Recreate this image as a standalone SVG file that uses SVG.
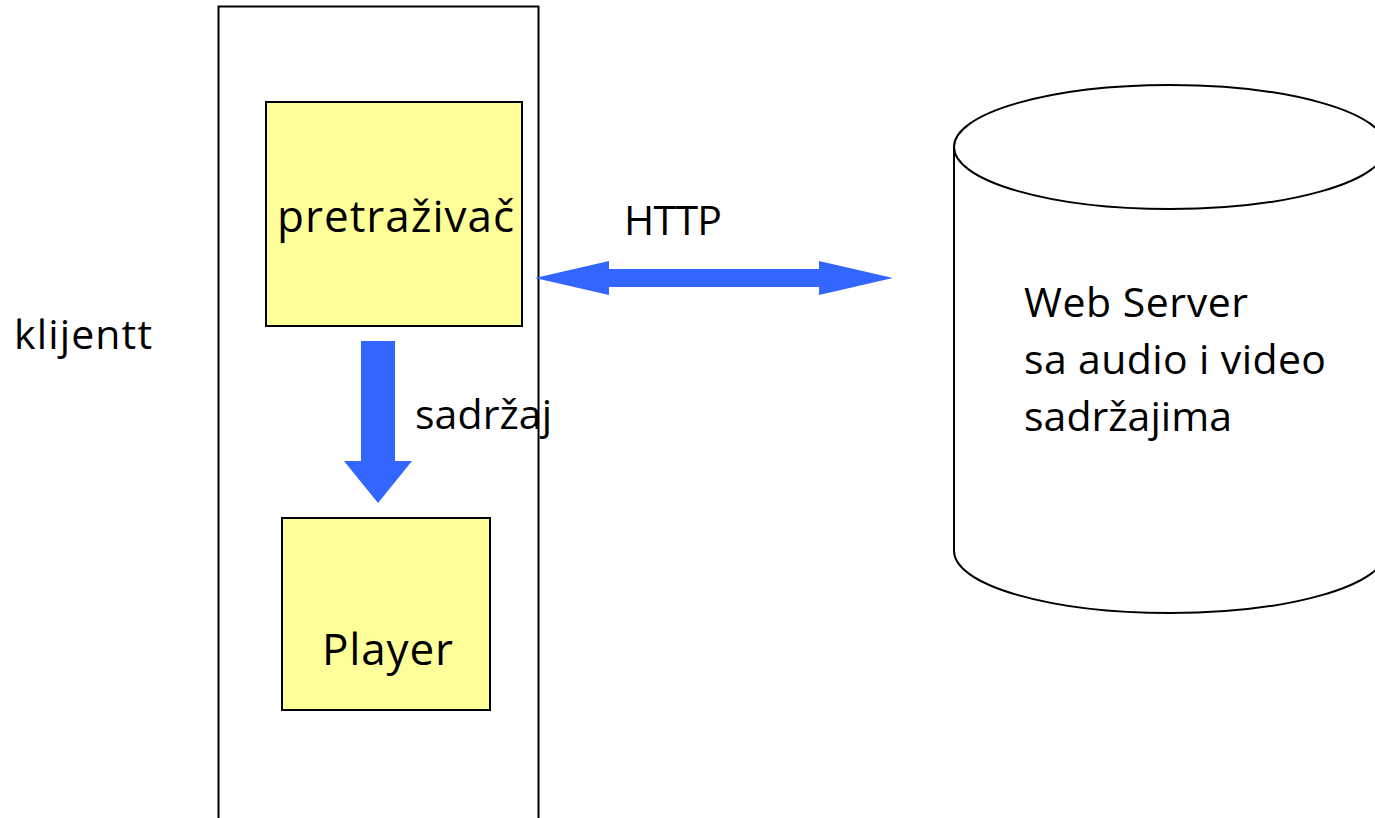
<svg xmlns="http://www.w3.org/2000/svg" width="1375" height="818" viewBox="0 0 1375 818">
<style>
text{font-family:"Open Sans","Noto Sans",sans-serif;font-size:41px;fill:#000}
.big{font-size:44px}
.box{fill:#FFFF99;stroke:#000;stroke-width:2}
.blue{fill:#3366FF;stroke:none}
</style>
<rect width="1375" height="818" fill="#fff"/>
<g id="client">
<rect x="218.5" y="6.5" width="320" height="830" fill="none" stroke="#000" stroke-width="2"/>
<text x="14" y="349" textLength="138">klijentt</text>
</g>
<g id="pretrazivac">
<rect class="box" x="266" y="102" width="256" height="224"/>
<text class="big" x="277" y="232" textLength="237">pretraživač</text>
</g>
<g id="player">
<rect class="box" x="282" y="518" width="208" height="192"/>
<text class="big" x="322" y="665" textLength="131">Player</text>
</g>
<g id="server">
<path d="M954,147 L954,551 A216,62 0 0 0 1386,551 L1386,147 A216,62 0 0 0 954,147 Z" fill="#fff" stroke="#000" stroke-width="2"/>
<path d="M954,147 A216,62 0 0 0 1386,147" fill="none" stroke="#000" stroke-width="2"/>
<text x="1024" y="317" textLength="224">Web Server</text>
<text x="1024" y="374" textLength="302">sa audio i video</text>
<text x="1024" y="431" textLength="208">sadržajima</text>
</g>
<g id="connectors">
<polygon class="blue" points="535,278 609,261 609,269 819,269 819,261 893,278 819,295 819,287 609,287 609,295"/>
<text x="624" y="235" textLength="98">HTTP</text>
<polygon class="blue" points="361,341 395,341 395,461 412,461 378,503 344,461 361,461"/>
<text x="415" y="429" textLength="137">sadržaj</text>
</g>
</svg>
